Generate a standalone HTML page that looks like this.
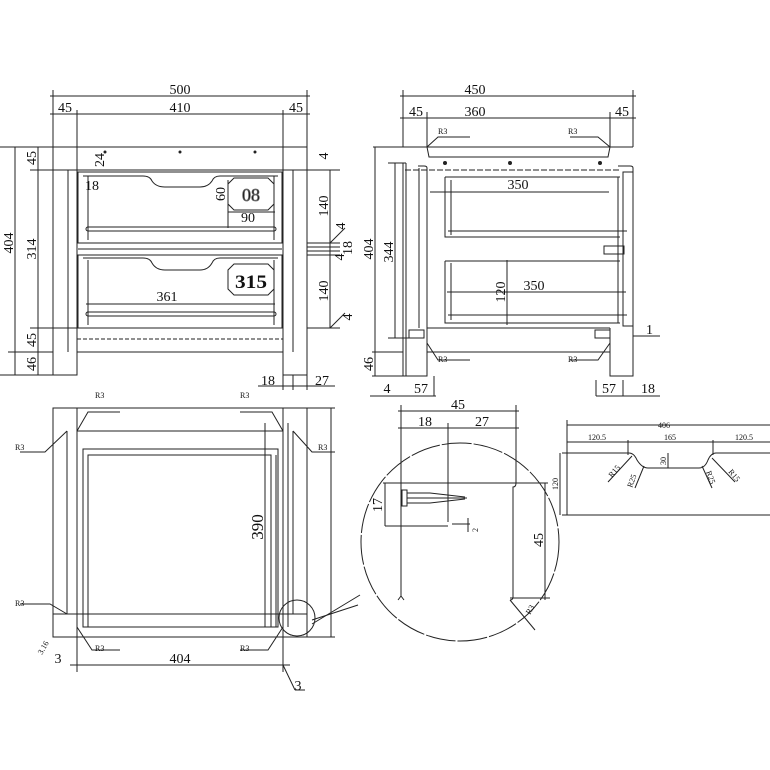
<!DOCTYPE html>
<html><head><meta charset="utf-8"><style>
html,body{margin:0;padding:0;background:#fff}
svg{display:block}
text{font-family:"Liberation Serif",serif;fill:#111}
.b{font-weight:bold}
</style></head><body>
<svg width="770" height="770" viewBox="0 0 770 770" xmlns="http://www.w3.org/2000/svg">
<g stroke="#222" stroke-width="1" fill="none">
<!-- ===== FRONT VIEW ===== -->
<line x1="53" y1="90" x2="53" y2="147"/><line x1="307" y1="90" x2="307" y2="147"/>
<line x1="77" y1="110" x2="77" y2="147"/><line x1="283" y1="110" x2="283" y2="147"/>
<line x1="50" y1="96" x2="310" y2="96"/>
<line x1="50" y1="114" x2="310" y2="114"/>
<rect x="53" y="147" width="254" height="23"/>
<line x1="77" y1="147" x2="77" y2="352"/><line x1="283" y1="147" x2="283" y2="352"/>
<line x1="68" y1="170" x2="68" y2="352"/><line x1="293" y1="170" x2="293" y2="352"/>
<line x1="53" y1="147" x2="53" y2="375"/><line x1="307" y1="147" x2="307" y2="375"/>
<path d="M53 352 V375 H77 V352 M283 352 V375 H307 V352"/>
<line x1="77" y1="328" x2="283" y2="328"/>
<line x1="77" y1="352" x2="283" y2="352"/>
<line x1="77" y1="339" x2="283" y2="339" stroke-dasharray="4 2"/>
<!-- drawer 1 -->
<rect x="78" y="172" width="204" height="71"/>
<path d="M83 176 H143 Q150 176 152 181 Q156 187 165 187 H200 Q208 187 212 181 Q214 176 220 176 H278"/>
<line x1="88" y1="176" x2="88" y2="240"/><line x1="274" y1="176" x2="274" y2="240"/>
<rect x="86" y="227" width="190" height="4" rx="2"/>
<path d="M234 178 H268 L274 184 V204 L268 210 H234 L228 204 V184 Z"/>
<line x1="78" y1="249" x2="282" y2="249"/>
<!-- drawer 2 -->
<rect x="78" y="255" width="204" height="73"/>
<path d="M83 258 H143 Q150 258 152 263 Q156 270 165 270 H200 Q208 270 212 263 Q214 258 220 258 H278"/>
<line x1="88" y1="260" x2="88" y2="325"/><line x1="274" y1="260" x2="274" y2="325"/>
<rect x="86" y="312" width="190" height="4" rx="2"/>
<path d="M234 264 H268 L274 270 V289 L268 295 H234 L228 289 V270 Z"/>
<line x1="86" y1="304" x2="275" y2="304"/>
<line x1="228" y1="212" x2="275" y2="212"/>
<line x1="228" y1="180" x2="228" y2="228"/>
<!-- left dims -->
<line x1="15" y1="147" x2="15" y2="375"/>
<line x1="38" y1="147" x2="38" y2="375"/>
<line x1="0" y1="147" x2="53" y2="147"/><line x1="30" y1="170" x2="68" y2="170"/>
<line x1="30" y1="328" x2="77" y2="328"/><line x1="8" y1="352" x2="53" y2="352"/>
<line x1="0" y1="375" x2="53" y2="375"/>
<!-- right dims -->
<line x1="330" y1="170" x2="330" y2="328"/>
<line x1="307" y1="170" x2="340" y2="170"/><line x1="307" y1="243" x2="340" y2="243"/>
<line x1="307" y1="247" x2="340" y2="247"/><line x1="307" y1="251" x2="340" y2="251"/>
<line x1="307" y1="255" x2="340" y2="255"/><line x1="307" y1="328" x2="340" y2="328"/>
<line x1="330" y1="243" x2="345" y2="228"/><line x1="330" y1="328" x2="345" y2="313"/>
<line x1="283" y1="375" x2="283" y2="390"/><line x1="293" y1="375" x2="293" y2="390"/><line x1="307" y1="375" x2="307" y2="390"/>
<line x1="258" y1="386" x2="335" y2="386"/>

<!-- ===== SIDE VIEW ===== -->
<line x1="403" y1="90" x2="403" y2="147"/><line x1="633" y1="90" x2="633" y2="147"/>
<line x1="427" y1="112" x2="427" y2="147"/><line x1="610" y1="112" x2="610" y2="147"/>
<line x1="400" y1="96" x2="636" y2="96"/><line x1="400" y1="118" x2="636" y2="118"/>
<line x1="373" y1="147" x2="633" y2="147"/>
<path d="M427 147 L429 157 H608 L610 147"/>
<line x1="406" y1="163" x2="406" y2="376"/>
<path d="M403 163 V376 H427 V168 Q427 166 424 166 H418"/>
<line x1="419" y1="168" x2="419" y2="328"/>
<line x1="405" y1="170" x2="620" y2="170" stroke-dasharray="6 2"/>
<line x1="427" y1="328" x2="610" y2="328"/>
<line x1="427" y1="352" x2="610" y2="352"/>
<path d="M610 328 V376 H633 V168 Q633 166 630 166 H618"/>
<rect x="623" y="172" width="10" height="154"/>
<path d="M445 177 H620 M445 177 V237 H620 M451 180 V235"/>
<line x1="448" y1="231" x2="627" y2="231"/>
<path d="M445 261 H620 M445 261 V323 H620 M451 263 V320"/>
<line x1="448" y1="315" x2="627" y2="315"/>
<line x1="618" y1="177" x2="618" y2="323"/>
<rect x="604" y="246" width="20" height="8"/>
<line x1="430" y1="192" x2="609" y2="192"/>
<line x1="447" y1="292" x2="626" y2="292"/>
<line x1="507" y1="260" x2="507" y2="325"/>
<rect x="409" y="330" width="15" height="8"/><rect x="595" y="330" width="15" height="8"/>
<line x1="375" y1="147" x2="375" y2="376"/>
<line x1="395" y1="163" x2="395" y2="338"/>
<line x1="388" y1="163" x2="406" y2="163"/><line x1="388" y1="338" x2="409" y2="338"/>
<line x1="372" y1="352" x2="403" y2="352"/><line x1="372" y1="376" x2="403" y2="376"/>
<line x1="633" y1="336" x2="660" y2="336"/>
<line x1="370" y1="396" x2="436" y2="396"/><line x1="596" y1="396" x2="660" y2="396"/>
<line x1="434" y1="376" x2="434" y2="396"/><line x1="596" y1="380" x2="596" y2="396"/><line x1="623" y1="380" x2="623" y2="396"/>
<path d="M427 147 L438 137 H470 M610 147 L598 137 H570 M427 343 L438 360 H470 M610 343 L598 360 H570"/>

<!-- ===== PLAN VIEW ===== -->
<rect x="53" y="408" width="254" height="229"/>
<line x1="77" y1="431" x2="283" y2="431"/>
<line x1="53" y1="614" x2="307" y2="614"/>
<line x1="77" y1="408" x2="77" y2="637"/><line x1="283" y1="408" x2="283" y2="637"/>
<line x1="67" y1="431" x2="67" y2="614"/><line x1="293" y1="431" x2="293" y2="614"/>
<rect x="83" y="449" width="195" height="178"/>
<path d="M88 627 V455 H271 V470"/>
<line x1="271" y1="455" x2="271" y2="627"/>
<line x1="265" y1="423" x2="265" y2="627"/>
<line x1="276" y1="455" x2="276" y2="627"/>
<line x1="288" y1="423" x2="288" y2="627"/>
<line x1="331" y1="408" x2="331" y2="637"/><line x1="307" y1="408" x2="335" y2="408"/><line x1="307" y1="637" x2="335" y2="637"/>
<line x1="77" y1="637" x2="77" y2="672"/><line x1="283" y1="637" x2="283" y2="672"/>
<line x1="70" y1="665" x2="290" y2="665"/>
<line x1="283" y1="665" x2="295" y2="690"/><line x1="295" y1="690" x2="305" y2="690"/>
<path d="M77 431 L88 412 H120 M283 431 L272 412 H240 M67 431 L45 452 H20 M293 431 L312 452 H335 M67 614 L50 604 H20 M77 627 L92 650 H120 M283 627 L268 650 H240"/>
<circle cx="297" cy="618" r="18"/>
<line x1="312" y1="624" x2="360" y2="595"/><line x1="312" y1="620" x2="358" y2="605"/>

<!-- ===== DETAIL CIRCLE ===== -->
<circle cx="460" cy="542" r="99" stroke-dasharray="30 2"/>
<line x1="401" y1="405" x2="401" y2="596"/>
<line x1="516" y1="405" x2="516" y2="483"/>
<path d="M516 483 Q516 487 513 487 V597 Q513 600 510 600 M401 596 L398 600 M401 596 L404 600"/>
<line x1="448" y1="423" x2="448" y2="522"/>
<line x1="398" y1="411" x2="519" y2="411"/><line x1="398" y1="428" x2="519" y2="428"/>
<line x1="383" y1="483" x2="548" y2="483"/>
<line x1="385" y1="483" x2="385" y2="526"/><line x1="385" y1="526" x2="448" y2="526"/>
<rect x="402" y="490" width="5" height="16"/>
<path d="M407 493 H430 L465 497 M407 503 H430 L465 499 M407 498 H467"/>
<line x1="452" y1="524" x2="470" y2="524"/><line x1="468" y1="518" x2="468" y2="532"/>
<line x1="545" y1="483" x2="545" y2="600"/><line x1="510" y1="598" x2="550" y2="598"/>
<line x1="510" y1="600" x2="535" y2="630"/>

<!-- ===== PROFILE ===== -->
<line x1="567" y1="425" x2="770" y2="425"/><line x1="567" y1="442" x2="770" y2="442"/>
<line x1="567" y1="420" x2="567" y2="515"/>
<line x1="628" y1="440" x2="628" y2="455"/><line x1="713" y1="440" x2="713" y2="455"/>
<path d="M562 453 H629 Q634 453 637 460 Q642 468 648 468 H699 Q705 468 708 460 Q711 453 716 453 H770"/>
<line x1="562" y1="515" x2="770" y2="515"/>
<line x1="560" y1="453" x2="560" y2="515"/>
<line x1="668" y1="453" x2="668" y2="468"/>
<path d="M632 456 L608 482 M644 466 L635 488 M702 466 L712 488 M712 458 L735 482"/>
</g>
<g fill="#222" stroke="none">
<circle cx="180" cy="152" r="1.5"/><circle cx="105" cy="152" r="1.5"/><circle cx="255" cy="152" r="1.5"/>
<circle cx="445" cy="163" r="2"/><circle cx="510" cy="163" r="2"/><circle cx="600" cy="163" r="2"/>
</g>
<!-- labels -->
<g font-size="14">
<text x="180" y="94" text-anchor="middle">500</text>
<text x="180" y="112" text-anchor="middle">410</text>
<text x="65" y="112" text-anchor="middle">45</text>
<text x="296" y="112" text-anchor="middle">45</text>
<text x="85" y="190">18</text>
<text x="241" y="222">90</text>
<text x="167" y="301" text-anchor="middle">361</text>
<text x="268" y="385" text-anchor="middle">18</text>
<text x="322" y="385" text-anchor="middle">27</text>
<text x="475" y="94" text-anchor="middle">450</text>
<text x="475" y="116" text-anchor="middle">360</text>
<text x="416" y="116" text-anchor="middle">45</text>
<text x="622" y="116" text-anchor="middle">45</text>
<text x="518" y="189" text-anchor="middle">350</text>
<text x="534" y="290" text-anchor="middle">350</text>
<text x="646" y="334">1</text>
<text x="387" y="393" text-anchor="middle">4</text>
<text x="421" y="393" text-anchor="middle">57</text>
<text x="609" y="393" text-anchor="middle">57</text>
<text x="648" y="393" text-anchor="middle">18</text>
<text x="180" y="663" text-anchor="middle">404</text>
<text x="58" y="663" text-anchor="middle">3</text>
<text x="298" y="690" text-anchor="middle">3</text>
<text x="458" y="409" text-anchor="middle">45</text>
<text x="425" y="426" text-anchor="middle">18</text>
<text x="482" y="426" text-anchor="middle">27</text>
</g>
<g font-size="14">
<text transform="translate(13,243) rotate(-90)" text-anchor="middle">404</text>
<text transform="translate(36,249) rotate(-90)" text-anchor="middle">314</text>
<text transform="translate(36,158) rotate(-90)" text-anchor="middle">45</text>
<text transform="translate(36,340) rotate(-90)" text-anchor="middle">45</text>
<text transform="translate(36,364) rotate(-90)" text-anchor="middle">46</text>
<text transform="translate(104,160) rotate(-90)" text-anchor="middle">24</text>
<text transform="translate(225,194) rotate(-90)" text-anchor="middle">60</text>
<text transform="translate(328,206) rotate(-90)" text-anchor="middle">140</text>
<text transform="translate(328,291) rotate(-90)" text-anchor="middle">140</text>
<text transform="translate(328,156) rotate(-90)" text-anchor="middle">4</text>
<text transform="translate(345,226) rotate(-90)" text-anchor="middle">4</text>
<text transform="translate(352,248) rotate(-90)" text-anchor="middle">18</text>
<text transform="translate(344,257) rotate(-90)" text-anchor="middle">4</text>
<text transform="translate(352,317) rotate(-90)" text-anchor="middle">4</text>
<text transform="translate(373,249) rotate(-90)" text-anchor="middle">404</text>
<text transform="translate(393,252) rotate(-90)" text-anchor="middle">344</text>
<text transform="translate(373,364) rotate(-90)" text-anchor="middle">46</text>
<text transform="translate(505,292) rotate(-90)" text-anchor="middle">120</text>
<text transform="translate(382,505) rotate(-90)" text-anchor="middle">17</text>
<text transform="translate(543,540) rotate(-90)" text-anchor="middle">45</text>
<text transform="translate(263,527) rotate(-90)" text-anchor="middle" font-size="17">390</text>
</g>
<text x="251" y="201" text-anchor="middle" font-family="Liberation Sans,sans-serif" font-size="18" fill="none" stroke="#666" stroke-width="0.8">08</text>
<text x="251" y="288" text-anchor="middle" class="b" font-size="19" font-family="Liberation Sans,sans-serif" textLength="32" lengthAdjust="spacingAndGlyphs">315</text>
<g font-size="8">
<text x="438" y="134">R3</text><text x="568" y="134">R3</text>
<text x="438" y="362">R3</text><text x="568" y="362">R3</text>
<text x="95" y="398">R3</text><text x="240" y="398">R3</text>
<text x="15" y="450">R3</text><text x="318" y="450">R3</text>
<text x="15" y="606">R3</text>
<text x="95" y="651">R3</text><text x="240" y="651">R3</text>
<text x="664" y="428" text-anchor="middle">406</text>
<text x="597" y="440" text-anchor="middle">120.5</text>
<text x="670" y="440" text-anchor="middle">165</text>
<text x="744" y="440" text-anchor="middle">120.5</text>
<text transform="translate(666,461) rotate(-90)" text-anchor="middle">30</text>
<text transform="translate(558,484) rotate(-90)" text-anchor="middle">120</text>
<text transform="translate(478,530) rotate(-90)" text-anchor="middle">2</text>
<text transform="translate(612,478) rotate(-50)">R15</text>
<text transform="translate(632,488) rotate(-70)">R25</text>
<text transform="translate(706,472) rotate(70)">R25</text>
<text transform="translate(728,472) rotate(50)">R15</text>
<text transform="translate(530,615) rotate(-60)">R3</text>
<text transform="translate(42,655) rotate(-60)">3.16</text>
</g>
</svg>
</body></html>
